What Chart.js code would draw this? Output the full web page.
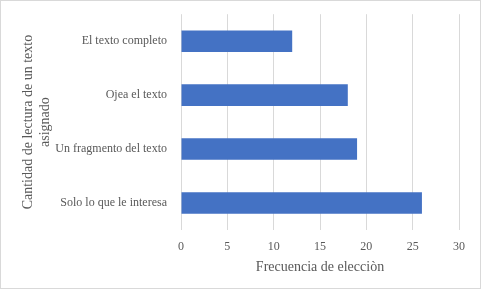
<!DOCTYPE html>
<html>
<head>
<meta charset="utf-8">
<script src="https://cdn.jsdelivr.net/npm/chart.js@4"></script>
<style>
  html, body { margin: 0; padding: 0; background: #ffffff; }
  #wrap { width: 479px; height: 287px; border: 1px solid #d9d9d9; position: relative; }
</style>
</head>
<body>
<div id="wrap"><canvas id="chart" width="479" height="287"></canvas></div>
<script>
  // categories, top to bottom as in the reference
  const categories = ['El texto completo', 'Ojea el texto', 'Un fragmento del texto', 'Solo lo que le interesa'];
  const frequencies = [12, 18, 19, 26];
  const xTicks = [0, 5, 10, 15, 20, 25, 30];

  const textColor = '#595959';
  const gridColor = '#d9d9d9';
  const font = { family: "'Liberation Serif', 'DejaVu Serif', serif", size: 12 };

  new Chart(document.getElementById('chart'), {
    type: 'bar',
    data: {
      labels: categories,
      datasets: [{
        label: 'Frecuencia',
        data: frequencies,
        backgroundColor: '#4472C4',
        borderWidth: 0,
        categoryPercentage: 1,
        barPercentage: 0.4
      }]
    },
    options: {
      indexAxis: 'y',
      responsive: false,
      animation: false,
      layout: { padding: { top: 10, right: 21, left: 0, bottom: 8 } },
      plugins: {
        legend: { display: false },
        tooltip: { enabled: false }
      },
      scales: {
        x: {
          min: 0,
          max: 30,
          afterBuildTicks: s => { s.ticks = xTicks.map(v => ({ value: v })); },
          afterFit: s => { s.height = 50; },
          grid: { color: gridColor, drawTicks: false },
          border: { display: false },
          ticks: { color: textColor, font: font, padding: 10 },
          title: {
            display: true,
            text: 'Frecuencia de elecciòn',
            color: textColor,
            font: { family: font.family, size: 14 },
            padding: { top: 2 }
          }
        },
        y: {
          afterFit: s => { s.width = 180; },
          grid: { display: false },
          border: { display: false },
          ticks: { color: textColor, font: font, padding: 6 },
          title: {
            display: true,
            text: ['Cantidad de lectura de un texto', 'asignado'],
            color: textColor,
            font: { family: font.family, size: 14 },
            padding: { top: 19 }
          }
        }
      }
    }
  });
</script>
</body>
</html>
